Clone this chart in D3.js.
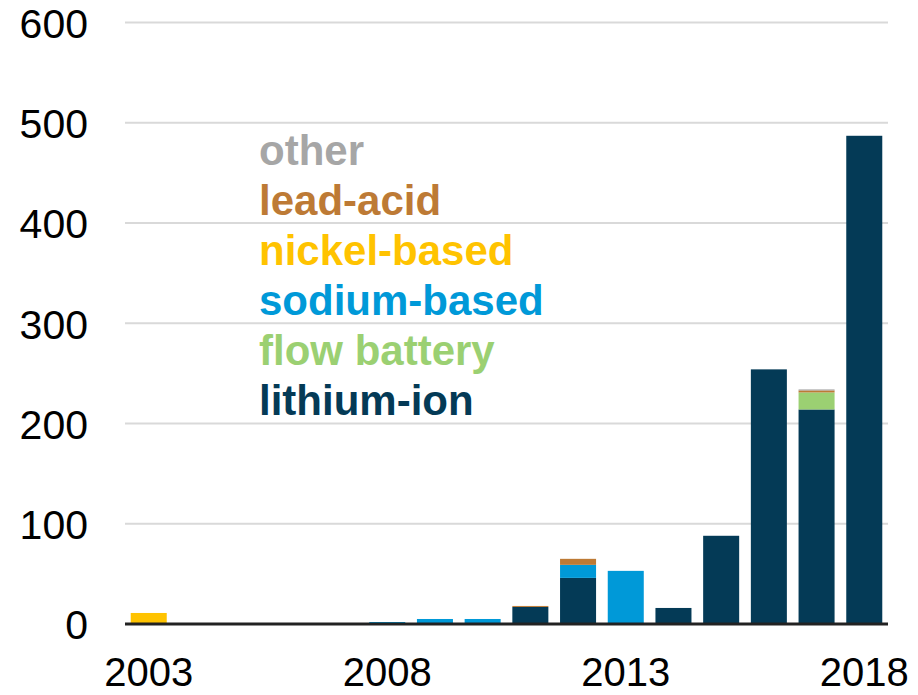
<!DOCTYPE html>
<html>
<head>
<meta charset="utf-8">
<title>Battery storage by chemistry</title>
<script src="https://cdn.jsdelivr.net/npm/d3@7/dist/d3.min.js"></script>
<style>
  body { margin: 0; background: #fff; }
  svg text { font-family: "Liberation Sans", Arial, sans-serif; }
</style>
</head>
<body>
<div id="chart"></div>
<script>
var years = ["2003","2004","2005","2006","2007","2008","2009","2010","2011","2012","2013","2014","2015","2016","2017","2018"];
var seriesNames = ["lithium-ion","flow battery","sodium-based","nickel-based","lead-acid","other"];
var lithium = [0,0,0,0,0,0,0,0,17,46,0,16,88,254,214,487];
var flow    = [0,0,0,0,0,0,0,0,0,0,0,0,0,0,17,0];
var sodium  = [0,0,0,0,0,2,5,5,0,13,53,0,0,0,0,0];
var nickel  = [11,0,0,0,0,0,0,0,0,0,0,0,0,0,0,0];
var lead    = [0,0,0,0,0,0,0,0,1,6,0,0,0,0,2,0];
var other   = [0,0,0,0,0,0,0,0,0,0,0,0,0,0,1,0];
var yTicks = [0,100,200,300,400,500,600];
var xLabels = ["2003","2008","2013","2018"];

var colors = {
  "lithium-ion": "#043a56",
  "flow battery": "#9bd072",
  "sodium-based": "#0099d8",
  "nickel-based": "#ffc300",
  "lead-acid": "#bd7a35",
  "other": "#a6a6a6"
};

var cols = [lithium, flow, sodium, nickel, lead, other];
var table = years.map(function(y, i) {
  var row = { year: y };
  seriesNames.forEach(function(s, k) { row[s] = cols[k][i]; });
  return row;
});

var width = 918, height = 695;

var svg = d3.select("#chart").append("svg")
  .attr("width", width)
  .attr("height", height);

var x = d3.scaleBand()
  .domain(years)
  .range([125, 888])
  .paddingInner(0.245)
  .paddingOuter(0.12);

var y = d3.scaleLinear()
  .domain([0, 600])
  .range([624, 22.5]);

// gridlines
svg.append("g")
  .selectAll("line")
  .data(yTicks.slice(1))
  .enter()
  .append("line")
    .attr("x1", 125)
    .attr("x2", 888)
    .attr("y1", function(d) { return y(d); })
    .attr("y2", function(d) { return y(d); })
    .attr("stroke", "#d9d9d9")
    .attr("stroke-width", 2);

// y labels
var yAxis = svg.append("g")
  .attr("transform", "translate(88,0)")
  .call(d3.axisLeft(y).tickValues(yTicks).tickSize(0).tickPadding(0));
yAxis.select(".domain").remove();
yAxis.selectAll("text")
  .attr("font-size", 41)
  .attr("fill", "#000")
  .attr("dy", "0.36em");

var stack = d3.stack().keys(seriesNames);
var layers = stack(table);

svg.append("g")
  .selectAll("g")
  .data(layers)
  .enter()
  .append("g")
    .attr("fill", function(d) { return colors[d.key]; })
  .selectAll("rect")
  .data(function(d) { return d; })
  .enter()
  .append("rect")
    .attr("x", function(d) { return x(d.data.year); })
    .attr("width", x.bandwidth())
    .attr("y", function(d) { return y(d[1]); })
    .attr("height", function(d) { return Math.max(0, y(d[0]) - y(d[1])); });

// baseline
svg.append("line")
  .attr("x1", 125)
  .attr("x2", 888)
  .attr("y1", y(0))
  .attr("y2", y(0))
  .attr("stroke", "#222")
  .attr("stroke-width", 3);

// x labels
var xAxis = svg.append("g")
  .attr("transform", "translate(0," + 686 + ")")
  .call(d3.axisBottom(x).tickValues(xLabels).tickSize(0).tickPadding(0));
xAxis.select(".domain").remove();
xAxis.selectAll("text")
  .attr("font-size", 40)
  .attr("fill", "#000")
  .attr("dy", 0);

// legend
var legendOrder = seriesNames.slice().reverse();
svg.append("g")
  .selectAll("text")
  .data(legendOrder)
  .enter()
  .append("text")
    .attr("x", 259)
    .attr("y", function(d, i) { return 165 + i * 50; })
    .attr("font-size", 42)
    .attr("font-weight", "bold")
    .attr("fill", function(d) { return colors[d]; })
    .text(function(d) { return d; });
</script>
</body>
</html>
